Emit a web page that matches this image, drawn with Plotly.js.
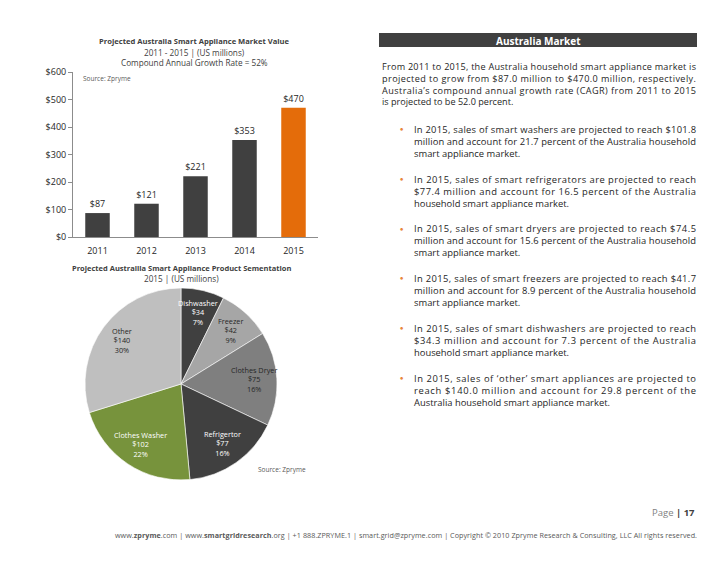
<!DOCTYPE html>
<html>
<head>
<meta charset="utf-8">
<script src="https://cdn.plot.ly/plotly-3.0.1.min.js"></script>
<style>html,body{margin:0;padding:0;background:#fff;}#chart{width:728px;height:563px;}</style>
</head>
<body>
<div id="chart"></div>
<script>
// ---- data ----
const years = ['2011', '2012', '2013', '2014', '2015'];
const marketValue = [87, 121, 221, 353, 470];
const segments = ['Dishwasher', 'Freezer', 'Clothes Dryer', 'Refrigertor', 'Clothes Washer', 'Other'];
const segmentValues = [34.3, 41.7, 74.5, 77.4, 101.8, 140.0];

const barTitleLines = ['<b>Projected Australia Smart Appliance Market Value</b>', '2011 - 2015 | (US millions)', 'Compound Annual Growth Rate = 52%'];
const pieTitleLines = ['<b>Projected Austrailia Smart Appliance Product Sementation</b>', '2015 | (US millions)'];
const sourceText = 'Source: Zpryme';
const headerText = '<b>Australia Market</b>';
const introLines = [
  'From 2011 to 2015, the Australia household smart appliance market is',
  'projected to grow from $87.0 million to $470.0 million, respectively.',
  'Australia\u2019s compound annual growth rate (CAGR) from 2011 to 2015',
  'is projected to be 52.0 percent.'
];
const bullets = [
  ['In 2015, sales of smart washers are projected to reach $101.8', 'million and account for 21.7 percent of the Australia household', 'smart appliance market.'],
  ['In 2015, sales of smart refrigerators are projected to reach', '$77.4 million and account for 16.5 percent of the Australia', 'household smart appliance market.'],
  ['In 2015, sales of smart dryers are projected to reach $74.5', 'million and account for 15.6 percent of the Australia household', 'smart appliance market.'],
  ['In 2015, sales of smart freezers are projected to reach $41.7', 'million and account for 8.9 percent of the Australia household', 'smart appliance market.'],
  ['In 2015, sales of smart dishwashers are projected to reach', '$34.3 million and account for 7.3 percent of the Australia', 'household smart appliance market.'],
  ['In 2015, sales of \u2018other\u2019 smart appliances are projected to', 'reach $140.0 million and account for 29.8 percent of the', 'Australia household smart appliance market.']
];
const pageText = '<span style="color:#7f7f7f">Page</span> <b>| 17</b>';
const footerText = 'www.<b>zpryme</b>.com | www.<b>smartgridresearch</b>.org | +1 888.ZPRYME.1 | smart.grid@zpryme.com | Copyright \u00a9 2010 Zpryme Research & Consulting, LLC All rights reserved.';

// ---- page geometry ----
const W = 728, H = 563;
const FONT = 'Open Sans, Lato, DejaVu Sans, sans-serif';
const fx = v => v / W;
const fy = v => 1 - v / H;

const annotations = [];
const justify = {};    // single-line annotation index -> width px
const justifyML = {};  // multi-line annotation index -> width px (all lines but last)
function ann(text, x, y, o) {
  o = o || {};
  annotations.push({
    text: text, xref: 'paper', yref: 'paper', x: fx(x), y: fy(y),
    xanchor: o.xanchor || 'center', yanchor: 'middle', showarrow: false,
    align: o.align || 'center', borderpad: 0,
    font: {family: FONT, size: o.size || 9, color: o.color || '#262626'}
  });
  return annotations.length - 1;
}

// bar chart titles
barTitleLines.forEach((t, i) => ann(t, 194, 41.5 + i * 10.5, {size: i === 0 ? 7.6 : 8.2, color: '#404040'}));
ann(sourceText, 82, 79, {xanchor: 'left', size: 6.5, color: '#595959'});
// pie titles
pieTitleLines.forEach((t, i) => ann(t, 181, 268 + i * 10.5, {size: i === 0 ? 7.5 : 8.2, color: '#404040'}));
ann(sourceText, 257, 469, {xanchor: 'left', size: 6.5, color: '#595959'});
// right column header
ann(headerText, 538, 40.5, {size: 10, color: '#ffffff'});
// intro paragraph (one block, justified lines)
{
  const size = 9.1, sp = size * 1.3;
  const idx = ann(introLines.join('<br>'), 381, 66 + (introLines.length - 1) * sp / 2, {xanchor: 'left', align: 'left', size: size});
  justifyML[idx] = 314;
}
// bullets
bullets.forEach((lines, b) => {
  const y0 = 129 + b * 49.8;
  const size = 9.4, sp = size * 1.3;
  ann('\u25CF', 401, y0, {size: 5.5, color: '#e8853a'});
  const idx = ann(lines.join('<br>'), 413, y0 + (lines.length - 1) * sp / 2, {xanchor: 'left', align: 'left', size: size});
  justifyML[idx] = 282;
});
// footer
ann(pageText, 696, 512, {xanchor: 'right', size: 9.5, color: '#404040'});
justify[ann(footerText, 406, 535, {size: 7.2, color: '#595959'})] = 582;

// ---- pie geometry & labels (positions derived from the data) ----
const pieCx = 181, pieCy = 384, pieR = 96;
const pieColors = ['#404040', '#a6a6a6', '#7f7f7f', '#404040', '#77933c', '#bfbfbf'];
const pieTextColors = ['#ffffff', '#262626', '#262626', '#ffffff', '#ffffff', '#262626'];
{
  const total = segmentValues.reduce((a, b) => a + b, 0);
  let cum = 0;
  segmentValues.forEach((v, i) => {
    const mid = (cum + v / 2) / total * 2 * Math.PI;
    cum += v;
    const r = pieR * 0.76;
    const x = pieCx + r * Math.sin(mid), y = pieCy - r * Math.cos(mid);
    ann(segments[i] + '<br>$' + Math.round(v) + '<br>' + Math.round(v / total * 100) + '%', x, y,
        {size: 7.3, color: pieTextColors[i]});
  });
}

const barColors = years.map((y, i) => i === years.length - 1 ? '#e46c0a' : '#404040');

const data = [
  {
    type: 'bar', x: years, y: marketValue,
    marker: {color: barColors},
    text: marketValue.map(v => '$' + v), textposition: 'outside',
    textfont: {family: FONT, size: 9, color: '#262626'},
    cliponaxis: false, hoverinfo: 'none', xaxis: 'x', yaxis: 'y'
  },
  {
    type: 'pie', labels: segments, values: segmentValues,
    sort: false, direction: 'clockwise', rotation: 0,
    domain: {x: [fx(pieCx - pieR), fx(pieCx + pieR)], y: [fy(pieCy + pieR), fy(pieCy - pieR)]},
    marker: {colors: pieColors, line: {color: '#ffffff', width: 0.6}},
    textinfo: 'none', hoverinfo: 'none', showlegend: false
  }
];

const layout = {
  width: W, height: H, margin: {l: 0, r: 0, t: 0, b: 0},
  paper_bgcolor: '#ffffff', plot_bgcolor: 'rgba(0,0,0,0)',
  showlegend: false, bargap: 0.5,
  font: {family: FONT, color: '#262626'},
  xaxis: {
    domain: [fx(73), fx(318)], type: 'category', anchor: 'y',
    showline: true, linecolor: '#8c8c8c', linewidth: 1,
    ticks: 'outside', ticklen: 5, tickcolor: 'rgba(0,0,0,0)',
    showgrid: false, zeroline: false, fixedrange: true,
    tickfont: {family: FONT, size: 9, color: '#262626'}
  },
  yaxis: {
    domain: [fy(237), fy(72)], range: [0, 600], dtick: 100, tick0: 0, anchor: 'x',
    tickprefix: '$', showline: true, linecolor: '#8c8c8c', linewidth: 1,
    ticks: 'outside', ticklen: 4, tickcolor: '#8c8c8c',
    showgrid: false, zeroline: false, fixedrange: true,
    tickfont: {family: FONT, size: 9, color: '#262626'}
  },
  shapes: [
    {type: 'rect', xref: 'paper', yref: 'paper', x0: fx(379), x1: fx(697), y0: fy(47), y1: fy(33),
     fillcolor: '#404040', line: {width: 0}, layer: 'below'}
  ],
  annotations: annotations
};

Plotly.newPlot('chart', data, layout, {staticPlot: true, displayModeBar: false}).then(gd => {
  Object.keys(justify).forEach(idx => {
    const t = gd.querySelector('.annotation[data-index="' + idx + '"] text.annotation-text');
    if (t) { t.setAttribute('textLength', justify[idx]); t.setAttribute('lengthAdjust', 'spacing'); }
  });
  Object.keys(justifyML).forEach(idx => {
    const lines = gd.querySelectorAll('.annotation[data-index="' + idx + '"] text.annotation-text > tspan.line');
    lines.forEach((ln, k) => {
      if (k < lines.length - 1) { ln.setAttribute('textLength', justifyML[idx]); ln.setAttribute('lengthAdjust', 'spacing'); }
    });
  });
});
</script>
</body>
</html>
